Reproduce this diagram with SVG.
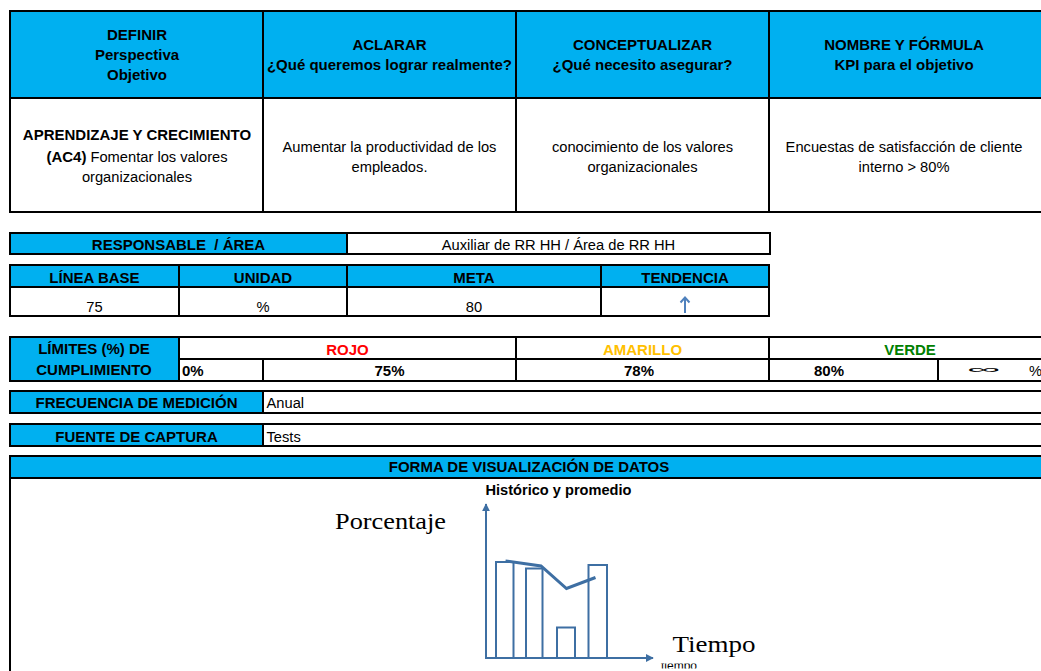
<svg xmlns="http://www.w3.org/2000/svg" width="1041" height="671" viewBox="0 0 1041 671">
<style>
.hd{fill:#00B0F0;stroke:#000;stroke-width:2}
.wc{fill:#fff;stroke:#000;stroke-width:2}
.b{font-family:"Liberation Sans",Arial,sans-serif;font-weight:bold;font-size:15px;fill:#000}
.r{font-family:"Liberation Sans",Arial,sans-serif;font-size:14.7px;fill:#000}
.c{text-anchor:middle}
.ch{fill:none;stroke:#3E6FA3;stroke-width:2}
.sf{font-family:"Liberation Serif","Times New Roman",serif;font-size:23px;fill:#000}
</style>
<defs>
<marker id="ah" viewBox="0 0 10 10" refX="9" refY="5" markerWidth="4" markerHeight="4" orient="auto" markerUnits="strokeWidth">
<path d="M0,0 L10,5 L0,10 z" fill="#3E6FA3"/>
</marker>
<clipPath id="clipT"><rect x="650" y="663.5" width="80" height="5"/></clipPath>
</defs>
<rect width="1041" height="671" fill="#fff"/>

<!-- Top table -->
<g id="h-definir">
<rect class="hd" x="10" y="11" width="253" height="87"/>
<text class="b c" x="137" y="39.5">DEFINIR</text>
<text class="b c" x="137" y="60">Perspectiva</text>
<text class="b c" x="137" y="80">Objetivo</text>
</g>
<g id="h-aclarar">
<rect class="hd" x="263" y="11" width="253" height="87"/>
<text class="b c" x="389.5" y="50">ACLARAR</text>
<text class="b c" x="389.5" y="70">¿Qué queremos lograr realmente?</text>
</g>
<g id="h-conceptualizar">
<rect class="hd" x="516" y="11" width="253" height="87"/>
<text class="b c" x="642.5" y="50">CONCEPTUALIZAR</text>
<text class="b c" x="642.5" y="70">¿Qué necesito asegurar?</text>
</g>
<g id="h-nombre">
<rect class="hd" x="769" y="11" width="280" height="87"/>
<text class="b c" x="904" y="50">NOMBRE Y FÓRMULA</text>
<text class="b c" x="904" y="70">KPI para el objetivo</text>
</g>
<g id="b-definir">
<rect class="wc" x="10" y="98" width="253" height="114"/>
<text class="b c" x="137" y="140">APRENDIZAJE Y CRECIMIENTO</text>
<text class="r c" x="137" y="161.5"><tspan font-weight="bold" font-size="15px">(AC4)</tspan> Fomentar los valores</text>
<text class="r c" x="137" y="181.5">organizacionales</text>
</g>
<g id="b-aclarar">
<rect class="wc" x="263" y="98" width="253" height="114"/>
<text class="r c" x="389.5" y="151.5">Aumentar la productividad de los</text>
<text class="r c" x="389.5" y="171.5">empleados.</text>
</g>
<g id="b-conceptualizar">
<rect class="wc" x="516" y="98" width="253" height="114"/>
<text class="r c" x="642.5" y="151.5">conocimiento de los valores</text>
<text class="r c" x="642.5" y="171.5">organizacionales</text>
</g>
<g id="b-nombre">
<rect class="wc" x="769" y="98" width="280" height="114"/>
<text class="r c" x="904" y="151.5">Encuestas de satisfacción de cliente</text>
<text class="r c" x="904" y="171.5">interno &gt; 80%</text>
</g>

<!-- Responsable -->
<g id="responsable">
<rect class="hd" x="10" y="233" width="337" height="21"/>
<text class="b c" x="178.5" y="250" xml:space="preserve">RESPONSABLE  / ÁREA</text>
<rect class="wc" x="347" y="233" width="423" height="21"/>
<text class="r c" x="558.5" y="250">Auxiliar de RR HH / Área de RR HH</text>
</g>

<!-- Linea base row -->
<g id="linea-base">
<rect class="hd" x="10" y="265" width="169" height="22"/>
<text class="b c" x="94.5" y="283">LÍNEA BASE</text>
<rect class="wc" x="10" y="287" width="169" height="29"/>
<text class="r c" x="94.5" y="311.5">75</text>
</g>
<g id="unidad">
<rect class="hd" x="179" y="265" width="168" height="22"/>
<text class="b c" x="263" y="283">UNIDAD</text>
<rect class="wc" x="179" y="287" width="168" height="29"/>
<text class="r c" x="263" y="311.5">%</text>
</g>
<g id="meta">
<rect class="hd" x="347" y="265" width="254" height="22"/>
<text class="b c" x="474" y="283">META</text>
<rect class="wc" x="347" y="287" width="254" height="29"/>
<text class="r c" x="474" y="311.5">80</text>
</g>
<g id="tendencia">
<rect class="hd" x="601" y="265" width="168" height="22"/>
<text class="b c" x="685" y="283">TENDENCIA</text>
<rect class="wc" x="601" y="287" width="168" height="29"/>
<path d="M685,313 V297.5 M680.5,302.5 L685,297.5 L689.5,302.5" fill="none" stroke="#4F81BD" stroke-width="2"/>
</g>

<!-- Limites -->
<g id="limites">
<rect class="hd" x="10" y="337" width="169" height="44"/>
<text class="b c" x="94" y="353.5">LÍMITES (%) DE</text>
<text class="b c" x="94" y="375">CUMPLIMIENTO</text>
</g>
<g id="rojo">
<rect class="wc" x="179" y="337" width="337" height="22"/>
<text class="b c" x="347.5" y="355" style="fill:#FF0000">ROJO</text>
<rect class="wc" x="179" y="359" width="84" height="22"/>
<text class="b" x="182" y="375.5">0%</text>
<rect class="wc" x="263" y="359" width="253" height="22"/>
<text class="b c" x="389.5" y="375.5">75%</text>
</g>
<g id="amarillo">
<rect class="wc" x="516" y="337" width="253" height="22"/>
<text class="b c" x="642.5" y="355" style="fill:#FFC000">AMARILLO</text>
<rect class="wc" x="516" y="359" width="253" height="22"/>
<text class="b c" x="639" y="375.5">78%</text>
</g>
<g id="verde">
<rect class="wc" x="769" y="337" width="290" height="22"/>
<text class="b c" x="910" y="355" style="fill:#008000">VERDE</text>
<rect class="wc" x="769" y="359" width="169" height="22"/>
<text class="b c" x="829" y="375.5">80%</text>
<rect class="wc" x="938" y="359" width="120" height="22"/>
<text class="r" x="968" y="372.5" textLength="34" lengthAdjust="spacingAndGlyphs" style="font-size:11px">∞</text>
<text class="r" x="1029" y="375.5">%</text>
</g>

<!-- Frecuencia -->
<g id="frecuencia">
<rect class="hd" x="10" y="391" width="253" height="22"/>
<text class="b c" x="136.5" y="408">FRECUENCIA DE MEDICIÓN</text>
<rect class="wc" x="263" y="391" width="790" height="22"/>
<text class="r" x="266.5" y="408">Anual</text>
</g>
<g id="fuente">
<rect class="hd" x="10" y="424" width="253" height="22"/>
<text class="b c" x="136.5" y="441.5">FUENTE DE CAPTURA</text>
<rect class="wc" x="263" y="424" width="790" height="22"/>
<text class="r" x="266.5" y="441.5">Tests</text>
</g>

<!-- Forma de visualizacion -->
<g id="forma">
<rect class="hd" x="10" y="456" width="1040" height="22"/>
<text class="b c" x="529" y="472">FORMA DE VISUALIZACIÓN DE DATOS</text>
<rect class="wc" x="10" y="478" width="1040" height="210"/>
</g>

<!-- Chart -->
<g id="chart">
<text class="b c" x="558.5" y="494.5" style="font-size:14.6px">Histórico y promedio</text>
<text class="sf" x="335" y="529" textLength="111" lengthAdjust="spacingAndGlyphs">Porcentaje</text>
<text class="sf" x="672.5" y="651.5" textLength="83" lengthAdjust="spacingAndGlyphs">Tiempo</text>
<text class="r" x="661" y="670" clip-path="url(#clipT)" style="font-size:12px">tiempo</text>
<rect class="ch" x="496" y="562" width="17.5" height="96"/>
<rect class="ch" x="526" y="568.5" width="16.5" height="89.5"/>
<rect class="ch" x="557" y="627.5" width="18" height="30.5"/>
<rect class="ch" x="588.5" y="565" width="18.5" height="93"/>
<polyline class="ch" points="505.5,561 541,566 566.5,588.5 595.5,577.5" style="stroke-width:3"/>
</g>
<g id="connectors">
<line x1="486" y1="658" x2="486" y2="504" stroke="#3E6FA3" stroke-width="2" marker-end="url(#ah)"/>
<line x1="485" y1="658" x2="653" y2="658" stroke="#3E6FA3" stroke-width="2" marker-end="url(#ah)"/>
</g>
</svg>
